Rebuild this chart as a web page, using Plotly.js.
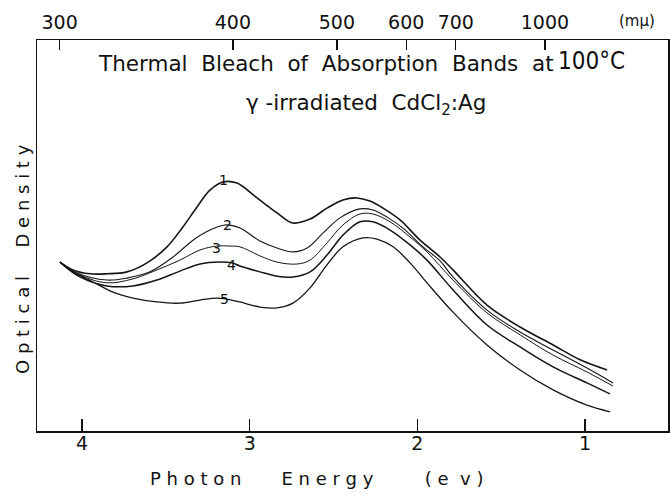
<!DOCTYPE html>
<html>
<head>
<meta charset="utf-8">
<script src="https://cdn.plot.ly/plotly-3.0.1.min.js"></script>
<style>
  html, body { margin: 0; padding: 0; background: #fff; }
  #chart { width: 670px; height: 494px; }
</style>
</head>
<body>
<div id="chart"></div>
<script>
// Photon energy (eV) and optical density (arbitrary units)
const energy1 = [4.131, 4.054, 3.952, 3.851, 3.732, 3.612, 3.493, 3.398, 3.314, 3.237, 3.159, 3.076, 2.962, 2.837, 2.742, 2.640, 2.539, 2.444, 2.360, 2.283, 2.205, 2.104, 1.984, 1.865, 1.788, 1.585, 1.388, 1.191, 1.030, 0.869];
const od1     = [0.432, 0.412, 0.402, 0.402, 0.407, 0.430, 0.471, 0.522, 0.573, 0.616, 0.637, 0.634, 0.598, 0.558, 0.532, 0.542, 0.570, 0.591, 0.596, 0.588, 0.570, 0.540, 0.488, 0.445, 0.412, 0.322, 0.266, 0.220, 0.182, 0.156];

const energy2 = [4.131, 4.030, 3.851, 3.732, 3.595, 3.457, 3.338, 3.237, 3.147, 3.058, 2.939, 2.837, 2.742, 2.658, 2.563, 2.462, 2.342, 2.265, 2.181, 2.086, 1.967, 1.865, 1.788, 1.585, 1.388, 1.191, 0.989, 0.834];
const od2     = [0.432, 0.404, 0.386, 0.391, 0.407, 0.445, 0.488, 0.514, 0.527, 0.519, 0.486, 0.468, 0.458, 0.468, 0.506, 0.545, 0.568, 0.565, 0.547, 0.519, 0.471, 0.435, 0.394, 0.309, 0.253, 0.207, 0.161, 0.123];

const energy3 = [4.131, 4.012, 3.851, 3.696, 3.553, 3.416, 3.296, 3.195, 3.117, 3.058, 2.939, 2.837, 2.718, 2.640, 2.539, 2.444, 2.342, 2.265, 2.163, 2.044, 1.943, 1.788, 1.585, 1.388, 1.191, 0.989, 0.834];
const od3     = [0.432, 0.399, 0.379, 0.389, 0.412, 0.437, 0.463, 0.473, 0.473, 0.471, 0.448, 0.432, 0.427, 0.437, 0.481, 0.527, 0.555, 0.555, 0.535, 0.496, 0.458, 0.386, 0.302, 0.246, 0.194, 0.151, 0.115];

const energy4 = [4.131, 4.012, 3.851, 3.696, 3.553, 3.416, 3.296, 3.177, 3.106, 3.058, 2.939, 2.837, 2.742, 2.640, 2.539, 2.444, 2.342, 2.265, 2.163, 2.044, 1.943, 1.788, 1.585, 1.388, 1.191, 0.989, 0.852];
const od4     = [0.432, 0.394, 0.371, 0.371, 0.386, 0.409, 0.427, 0.432, 0.430, 0.422, 0.407, 0.396, 0.394, 0.407, 0.450, 0.501, 0.535, 0.535, 0.514, 0.476, 0.437, 0.361, 0.271, 0.215, 0.164, 0.123, 0.095];

const energy5 = [4.131, 4.042, 3.934, 3.815, 3.696, 3.553, 3.416, 3.296, 3.195, 3.147, 3.058, 2.939, 2.837, 2.742, 2.640, 2.539, 2.444, 2.324, 2.241, 2.145, 2.044, 1.943, 1.788, 1.585, 1.388, 1.191, 0.989, 0.852];
const od5     = [0.432, 0.404, 0.381, 0.355, 0.340, 0.330, 0.327, 0.335, 0.340, 0.338, 0.330, 0.317, 0.315, 0.327, 0.366, 0.425, 0.471, 0.494, 0.491, 0.471, 0.430, 0.379, 0.304, 0.220, 0.156, 0.105, 0.066, 0.049];

const curveNames = ['1', '2', '3', '4', '5'];
const labelEnergy = [3.159, 3.135, 3.195, 3.106, 3.153];
const labelOD     = [0.642, 0.527, 0.468, 0.425, 0.338];

const energyTicks = [4, 3, 2, 1];
const energyTickText = ['4', '3', '2', '1'];
const wavelengthTicks = [300, 400, 500, 600, 700, 1000]; // mμ
const wavelengthTickText = ['300', '400', '500', '600', '700', '1000'];

const FONT = 'DejaVu Sans, Lato, sans-serif';
const xRange = [4.268, 0.506];

const series = [[energy1, od1], [energy2, od2], [energy3, od3], [energy4, od4], [energy5, od5]];
const widths = [1.6, 1.1, 1.0, 1.5, 1.3];

const traces = series.map((s, i) => ({
  x: s[0], y: s[1], type: 'scatter', mode: 'lines',
  name: curveNames[i],
  line: { color: '#151515', width: widths[i], shape: 'spline', smoothing: 1.0 },
  hoverinfo: 'skip', xaxis: 'x', yaxis: 'y'
}));

// invisible trace to activate top wavelength axis
traces.push({ x: [xRange[0]], y: [0], type: 'scatter', mode: 'markers',
  marker: { opacity: 0 }, xaxis: 'x2', yaxis: 'y', hoverinfo: 'skip', showlegend: false });

const annotations = curveNames.map((n, i) => ({
  x: labelEnergy[i], y: labelOD[i], xref: 'x', yref: 'y', text: n,
  showarrow: false, font: { family: FONT, size: 14, color: '#111' }
}));

const nb = '\u00a0';
const g2 = nb + nb;
annotations.push(
  { xref: 'paper', yref: 'paper', x: (96 - 37) / 631, y: (431 - 63) / 391, xanchor: 'left', yanchor: 'middle',
    text: 'Thermal' + g2 + 'Bleach' + g2 + 'of' + g2 + 'Absorption' + g2 + 'Bands' + g2 + 'at',
    showarrow: false, font: { family: FONT, size: 21.5, color: '#111' } },
  { xref: 'paper', yref: 'paper', x: (627 - 37) / 631, y: (431 - 61) / 391, xanchor: 'right', yanchor: 'middle',
    text: '100°C', showarrow: false, font: { family: 'Liberation Sans Narrow, DejaVu Sans Condensed, sans-serif', size: 24, color: '#111' } },
  { xref: 'paper', yref: 'paper', x: (244 - 37) / 631, y: (431 - 104) / 391, xanchor: 'left', yanchor: 'middle',
    text: 'γ' + nb + '-irradiated' + g2 + 'CdCl<sub>2</sub>:Ag', showarrow: false,
    font: { family: FONT, size: 21.5, color: '#111' } },
  { xref: 'paper', yref: 'paper', x: (637 - 37) / 631, y: (431 - 21) / 391, xanchor: 'center', yanchor: 'middle',
    text: '(mμ)', showarrow: false, font: { family: FONT, size: 15, color: '#111' } },
  { xref: 'paper', yref: 'paper', x: (22 - 37) / 631, y: (431 - 259) / 391, xanchor: 'center', yanchor: 'middle',
    textangle: -90,
    text: 'O p t i c a l' + nb.repeat(5) + 'D e n s i t y', showarrow: false,
    font: { family: FONT, size: 18, color: '#111' } },
  { xref: 'paper', yref: 'paper', x: (148 - 37) / 631, y: (431 - 479) / 391, xanchor: 'left', yanchor: 'middle',
    text: 'P h o t o n' + nb.repeat(7) + 'E n e r g y' + nb.repeat(9) + '( e' + g2 + 'v )', showarrow: false,
    font: { family: FONT, size: 18, color: '#111' } }
);

const layout = {
  width: 670, height: 494,
  margin: { l: 37, r: 2, t: 40, b: 63, pad: 0 },
  paper_bgcolor: '#fff', plot_bgcolor: '#fff',
  showlegend: false,
  font: { family: FONT, color: '#111' },
  xaxis: {
    range: xRange, tickmode: 'array', tickvals: energyTicks, ticktext: energyTickText,
    ticks: 'inside', ticklen: 12, tickwidth: 1.5, tickcolor: '#111',
    showline: true, linecolor: '#111', linewidth: 1.5, showgrid: false, zeroline: false,
    tickfont: { family: FONT, size: 19, color: '#111' }, ticklabelstandoff: -5
  },
  xaxis2: {
    overlaying: 'x', side: 'top', anchor: 'y', range: xRange,
    tickmode: 'array', tickvals: wavelengthTicks.map(w => 1240 / w), ticktext: wavelengthTickText,
    ticks: 'inside', ticklen: 10, tickwidth: 1.3, tickcolor: '#111',
    showline: true, linecolor: '#111', linewidth: 1.3, showgrid: false, zeroline: false,
    tickfont: { family: FONT, size: 19, color: '#111' }, ticklabelstandoff: 2
  },
  yaxis: {
    range: [0, 1], showticklabels: false, ticks: '', showgrid: false, zeroline: false,
    showline: true, mirror: true, linecolor: '#111', linewidth: 1.5
  },
  annotations: annotations
};

Plotly.newPlot('chart', traces, layout, { staticPlot: true, displayModeBar: false });
</script>
</body>
</html>
